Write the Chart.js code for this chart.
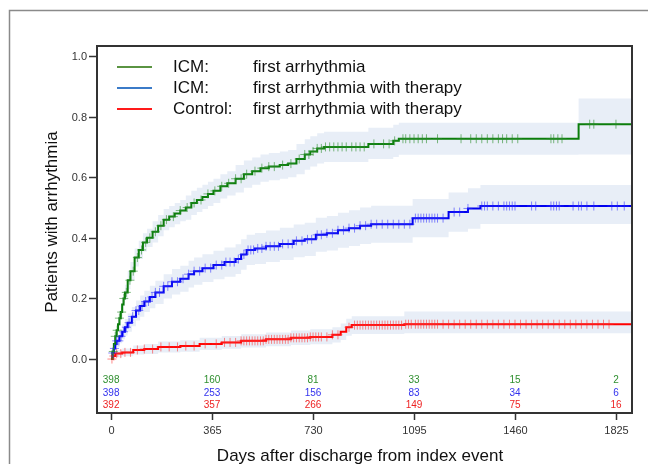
<!DOCTYPE html>
<html>
<head>
<meta charset="utf-8">
<script src="https://cdn.jsdelivr.net/npm/chart.js@4.4.1/dist/chart.umd.min.js"></script>
<style>
  body { margin: 0; background: #fff; }
  .wrapper { width: 648px; height: 464px; }
</style>
</head>
<body>
<div class="wrapper"><canvas id="Chart" width="648" height="464"></canvas></div>
<script>
// axis ticks
const xTicks = [0, 365, 730, 1095, 1460, 1825];
const yTicks = [0, 0.2, 0.4, 0.6, 0.8, 1.0];

// legend
const legendGroup = ['ICM:', 'ICM:', 'Control:'];
const legendText = ['first arrhythmia', 'first arrhythmia with therapy', 'first arrhythmia with therapy'];

// numbers at risk at each x tick
const riskGreen = [398, 160, 81, 33, 15, 2];
const riskBlue = [398, 253, 156, 83, 34, 6];
const riskRed = [392, 357, 266, 149, 75, 16];

// ICM: first arrhythmia (KM estimate + CI)
const greenDays = [0,5,10,15,20,25,30,35,40,45,50,60,70,85,100,115,130,150,170,190,210,230,250,270,290,310,330,350,370,395,420,450,480,510,540,570,610,640,670,700,720,745,770,930,1020,1040,1690,1880];
const greenEst = [0,0.025,0.05,0.075,0.095,0.115,0.135,0.155,0.18,0.2,0.22,0.26,0.29,0.335,0.36,0.385,0.4,0.42,0.44,0.46,0.47,0.48,0.49,0.5,0.515,0.525,0.535,0.545,0.555,0.57,0.58,0.595,0.61,0.62,0.63,0.635,0.64,0.645,0.66,0.675,0.685,0.695,0.7,0.71,0.72,0.727,0.775,0.775];
const greenLo = [0,0.012,0.032,0.055,0.075,0.09,0.11,0.13,0.155,0.175,0.195,0.23,0.26,0.305,0.33,0.355,0.37,0.385,0.405,0.425,0.435,0.445,0.455,0.46,0.475,0.485,0.495,0.505,0.515,0.53,0.54,0.55,0.565,0.575,0.585,0.59,0.595,0.6,0.61,0.625,0.635,0.645,0.65,0.66,0.667,0.674,0.675,0.675];
const greenHi = [0,0.04,0.07,0.095,0.115,0.14,0.16,0.18,0.205,0.225,0.245,0.29,0.32,0.365,0.39,0.415,0.43,0.455,0.475,0.495,0.505,0.515,0.525,0.54,0.555,0.565,0.575,0.585,0.595,0.61,0.62,0.64,0.655,0.665,0.675,0.68,0.685,0.69,0.71,0.725,0.735,0.745,0.75,0.763,0.773,0.78,0.86,0.86];
const greenCensor = [8,15,22,30,38,46,55,68,80,95,110,125,140,160,180,200,225,250,275,300,325,350,375,400,425,450,470,490,520,545,570,590,620,650,680,700,715,730,745,760,775,790,805,820,835,850,870,885,900,915,950,985,1005,1025,1055,1065,1080,1095,1110,1125,1140,1180,1265,1300,1320,1340,1360,1380,1400,1415,1430,1450,1470,1590,1600,1615,1630,1730,1745,1825];

// ICM: first arrhythmia with therapy
const blueDays = [0,5,10,15,20,30,40,50,60,75,90,105,120,140,160,190,220,250,280,300,330,370,410,450,470,490,520,560,610,660,700,740,780,820,860,900,940,1090,1220,1290,1335,1880];
const blueEst = [0,0.02,0.035,0.05,0.06,0.075,0.09,0.105,0.12,0.14,0.16,0.175,0.19,0.205,0.22,0.24,0.255,0.265,0.28,0.29,0.3,0.31,0.32,0.33,0.345,0.36,0.365,0.372,0.38,0.39,0.395,0.41,0.415,0.425,0.432,0.44,0.445,0.465,0.485,0.497,0.505,0.505];
const blueLo = [0,0.008,0.02,0.032,0.04,0.052,0.065,0.078,0.09,0.108,0.127,0.14,0.155,0.168,0.182,0.2,0.213,0.222,0.236,0.245,0.254,0.263,0.272,0.281,0.295,0.31,0.314,0.32,0.327,0.336,0.34,0.354,0.358,0.367,0.373,0.38,0.384,0.402,0.42,0.43,0.446,0.446];
const blueHi = [0,0.032,0.05,0.068,0.08,0.098,0.115,0.132,0.15,0.172,0.193,0.21,0.225,0.242,0.258,0.28,0.297,0.308,0.324,0.335,0.346,0.357,0.368,0.379,0.395,0.41,0.416,0.424,0.433,0.444,0.45,0.466,0.472,0.483,0.491,0.5,0.506,0.528,0.55,0.564,0.574,0.574];
const blueCensor = [6,12,20,28,36,45,55,65,78,90,100,112,125,135,148,160,175,190,205,220,240,260,280,300,320,340,360,380,400,415,430,445,460,480,495,505,515,530,545,560,575,590,605,620,640,655,670,690,710,725,745,760,780,800,820,840,860,880,900,920,940,960,980,1000,1020,1040,1060,1080,1100,1110,1120,1130,1140,1150,1160,1170,1180,1200,1240,1260,1290,1340,1350,1360,1380,1400,1420,1430,1440,1450,1460,1520,1535,1590,1600,1610,1620,1670,1690,1700,1720,1745,1810,1830,1855];

// Control: first arrhythmia with therapy
const redDays = [0,5,15,40,80,120,170,250,320,400,470,560,650,720,800,830,850,870,1060,1880];
const redEst = [0,0.01,0.018,0.022,0.03,0.033,0.04,0.043,0.05,0.055,0.06,0.065,0.07,0.073,0.08,0.09,0.105,0.112,0.115,0.115];
const redLo = [0,0.002,0.006,0.009,0.015,0.017,0.022,0.024,0.03,0.034,0.038,0.042,0.046,0.049,0.055,0.063,0.077,0.083,0.085,0.085];
const redHi = [0,0.02,0.03,0.035,0.045,0.05,0.058,0.062,0.07,0.076,0.082,0.088,0.094,0.098,0.105,0.117,0.133,0.141,0.157,0.157];
const redCensor = [3,10,20,35,50,70,95,120,150,180,210,240,270,300,340,380,410,430,450,470,480,490,500,510,520,530,540,550,560,570,580,590,600,610,620,630,640,650,660,670,680,690,700,710,720,730,740,750,760,780,800,820,860,880,890,900,910,920,930,940,950,960,970,980,990,1000,1010,1020,1030,1040,1050,1065,1075,1085,1100,1110,1120,1130,1140,1150,1160,1170,1180,1200,1220,1240,1260,1280,1300,1320,1340,1360,1380,1400,1420,1440,1460,1480,1500,1520,1540,1560,1580,1600,1620,1640,1660,1680,1700,1720,1740,1760,1780,1800];

const FONT = 'Arial, "Liberation Sans", sans-serif';

function pts(days, vals) {
  return days.map((d, i) => ({ x: d, y: vals[i] }));
}
// censor mark sits on the step curve
function censorPts(cens, days, vals) {
  return cens.map(t => {
    let v = vals[0];
    for (let i = 0; i < days.length; i++) { if (days[i] <= t) v = vals[i]; }
    return { x: t, y: v };
  });
}

function curve(days, vals, color) {
  return { data: pts(days, vals), borderColor: color, borderWidth: 2, stepped: 'before', pointRadius: 0, fill: false, order: 1 };
}
function marks(cens, days, vals, color) {
  return { data: censorPts(cens, days, vals), showLine: false, pointStyle: 'cross', pointRadius: 4.5,
           pointBorderWidth: 1, pointBorderColor: color, pointBackgroundColor: color, order: 0 };
}
function band(days, vals, fill) {
  return { data: pts(days, vals), borderWidth: 0, borderColor: 'rgba(0,0,0,0)', stepped: 'before', pointRadius: 0,
           fill: fill, backgroundColor: '#e8eef7', order: 5 };
}

const decor = {
  id: 'decor',
  beforeDraw(chart) {
    const ctx = chart.ctx;
    ctx.save();
    ctx.strokeStyle = '#8a8a8a';
    ctx.lineWidth = 1.5;
    ctx.beginPath();
    ctx.moveTo(9.5, 464); ctx.lineTo(9.5, 10.5); ctx.lineTo(648, 10.5);
    ctx.stroke();
    ctx.restore();
  },
  afterDraw(chart) {
    const { ctx, chartArea: a, scales: { x, y } } = chart;
    ctx.save();
    // frame
    ctx.strokeStyle = '#333';
    ctx.lineWidth = 2;
    ctx.strokeRect(a.left, a.top, a.right - a.left, a.bottom - a.top);

    ctx.lineWidth = 1.5;
    ctx.fillStyle = '#333';
    ctx.font = '11px ' + FONT;
    // y axis
    ctx.textAlign = 'right';
    ctx.textBaseline = 'middle';
    yTicks.forEach(v => {
      const py = Math.round(y.getPixelForValue(v)) + 0.5;
      ctx.beginPath(); ctx.moveTo(a.left - 8, py); ctx.lineTo(a.left, py); ctx.stroke();
      ctx.fillText(v.toFixed(1), a.left - 10, py);
    });
    // x axis
    ctx.textAlign = 'center';
    xTicks.forEach(d => {
      const px = Math.round(x.getPixelForValue(d)) + 0.5;
      ctx.beginPath(); ctx.moveTo(px, a.bottom); ctx.lineTo(px, a.bottom + 7); ctx.stroke();
      ctx.fillText(String(d), px, a.bottom + 18);
    });

    // numbers at risk
    const zero = y.getPixelForValue(0);
    ctx.font = '10px ' + FONT;
    [[riskGreen, '#2f8f2f', 21], [riskBlue, '#3333ee', 34], [riskRed, '#ee2222', 46]].forEach(([row, col, off]) => {
      ctx.fillStyle = col;
      xTicks.forEach((d, i) => ctx.fillText(String(row[i]), x.getPixelForValue(d), zero + off));
    });

    // axis titles
    ctx.fillStyle = '#111';
    ctx.font = '17px ' + FONT;
    ctx.fillText('Days after discharge from index event', 360, 456);
    ctx.save();
    ctx.translate(52, 222);
    ctx.rotate(-Math.PI / 2);
    ctx.fillText('Patients with arrhythmia', 0, 0);
    ctx.restore();

    // legend
    const legColors = ['#5a9442', '#3b7bc8', '#ff1a1a'];
    ctx.textAlign = 'left';
    ctx.lineWidth = 2;
    legendText.forEach((t, i) => {
      const ly = 67 + i * 21;
      ctx.strokeStyle = legColors[i];
      ctx.beginPath(); ctx.moveTo(117, ly); ctx.lineTo(152, ly); ctx.stroke();
      ctx.fillStyle = '#111';
      ctx.fillText(legendGroup[i], 173, ly);
      ctx.fillText(t, 253, ly);
    });
    ctx.restore();
  }
};

new Chart(document.getElementById('Chart'), {
  type: 'line',
  data: {
    datasets: [
      curve(greenDays, greenEst, '#0b7d0b'),
      curve(blueDays, blueEst, '#0000ee'),
      curve(redDays, redEst, '#ff0000'),
      marks(greenCensor, greenDays, greenEst, 'rgba(40,140,40,0.6)'),
      marks(blueCensor, blueDays, blueEst, 'rgba(40,40,255,0.55)'),
      marks(redCensor, redDays, redEst, 'rgba(255,40,40,0.55)'),
      band(greenDays, greenHi, '+1'),
      band(greenDays, greenLo, false),
      band(blueDays, blueHi, '+1'),
      band(blueDays, blueLo, false),
      band(redDays, redHi, '+1'),
      band(redDays, redLo, false)
    ]
  },
  options: {
    responsive: false,
    animation: false,
    devicePixelRatio: 1,
    layout: { padding: { left: 97, top: 46, right: 16, bottom: 51 } },
    scales: {
      x: { type: 'linear', min: -51, max: 1883, display: false },
      y: { type: 'linear', min: -0.178, max: 1.033, display: false }
    },
    plugins: { legend: { display: false }, tooltip: { enabled: false } }
  },
  plugins: [decor]
});
</script>
</body>
</html>
